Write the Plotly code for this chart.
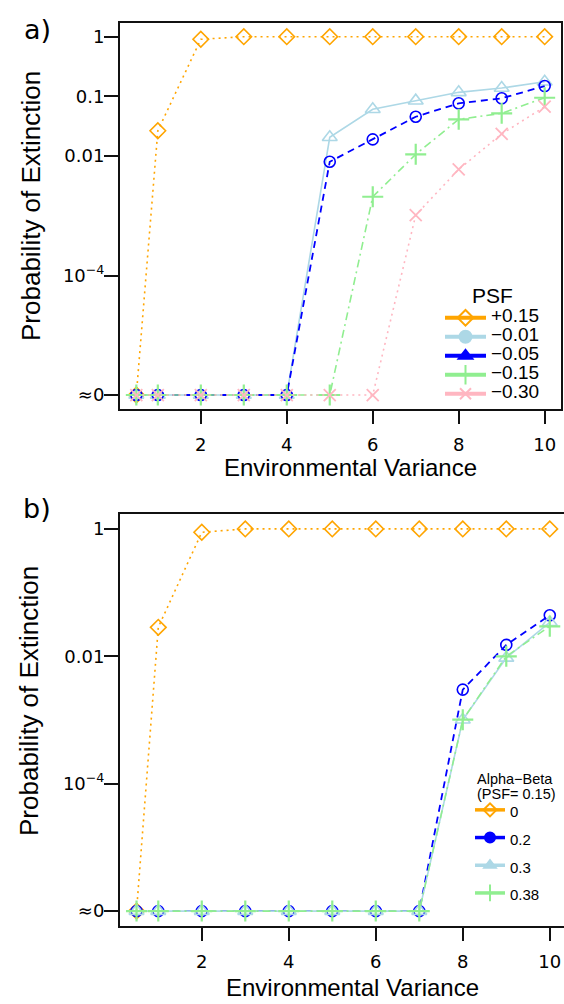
import plotly.graph_objects as go

W, H = 564, 1004
ZERO = 1e-6  # plotted position of "≈0"

env_var = [0.5, 1, 2, 3, 4, 5, 6, 7, 8, 9, 10]

# Panel a) PSF series
psf_labels = ["+0.15", "\u22120.01", "\u22120.05", "\u22120.15", "\u22120.30"]
psf_p015 = [ZERO, 0.0266, 0.904, 1, 1, 1, 1, 1, 1, 1, 1]
psf_m001 = [ZERO, ZERO, ZERO, ZERO, ZERO, 0.0207, 0.0608, 0.0848, 0.117, 0.138, 0.176]
psf_m005 = [ZERO, ZERO, ZERO, ZERO, ZERO, 0.00805, 0.0191, 0.0457, 0.0766, 0.0929, 0.149]
psf_m015 = [ZERO, ZERO, ZERO, ZERO, ZERO, ZERO, 0.00209, 0.0107, 0.0413, 0.0521, 0.095]
psf_m030 = [ZERO, ZERO, ZERO, ZERO, ZERO, ZERO, ZERO, 0.00103, 0.0060, 0.0235, 0.0672]

# Panel b) Alpha-Beta series (PSF = 0.15)
ab_labels = ["0", "0.2", "0.3", "0.38"]
ab_000 = [ZERO, 0.0285, 0.885, 1, 1, 1, 1, 1, 1, 1, 1]
ab_020 = [ZERO, ZERO, ZERO, ZERO, ZERO, ZERO, ZERO, ZERO, 0.0030, 0.0151, 0.0441]
ab_030 = [ZERO, ZERO, ZERO, ZERO, ZERO, ZERO, ZERO, ZERO, 0.00101, 0.00944, 0.0342]
ab_038 = [ZERO, ZERO, ZERO, ZERO, ZERO, ZERO, ZERO, ZERO, 0.00101, 0.0100, 0.0296]

ytick_vals_a = [ZERO, 1e-4, 0.01, 0.1, 1]
ytick_text_a = ["\u22480", "10<sup>\u22124</sup>", "0.01", "0.1", "1"]
ytick_vals_b = [ZERO, 1e-4, 0.01, 1]
ytick_text_b = ["\u22480", "10<sup>\u22124</sup>", "0.01", "1"]
xtick_vals = [2, 4, 6, 8, 10]

ORANGE = "#FFA500"
LBLUE = "#ADD8E6"
BLUE = "#0000FF"
LGREEN = "#90EE90"
PINK = "#FFB6C1"

DOT = "2px,4px"
DASH = "7px,5px"
DASHDOT = "8px,4px,2px,4px"

fig = go.Figure()


def series(y, color, dash, width, symbol, msize, mlw, xa, ya):
    fig.add_trace(go.Scatter(
        x=env_var, y=y, mode="lines+markers", showlegend=False,
        line=dict(color=color, dash=dash, width=width),
        marker=dict(symbol=symbol, size=msize, color=color, line=dict(color=color, width=mlw)),
        xaxis=xa, yaxis=ya, hoverinfo="skip"))


def legend_entry(name, color, symbol, msize, lw, legend, fsize):
    fig.add_trace(go.Scatter(
        x=[None], y=[None], mode="lines+markers",
        name=f"<span style='font-size:{fsize}px'>{name}</span>",
        line=dict(color=color, width=lw),
        marker=dict(symbol=symbol, size=msize, color=color, line=dict(color=color, width=2)),
        xaxis="x", yaxis="y", legend=legend, showlegend=True))


# Panel a
series(psf_p015, ORANGE, DOT, 1.6, "diamond-open", 12, 1.6, "x", "y")
series(psf_m001, LBLUE, "solid", 1.6, "triangle-up-open", 13, 1.6, "x", "y")
series(psf_m005, BLUE, DASH, 1.8, "circle-open", 11, 1.6, "x", "y")
series(psf_m015, LGREEN, DASHDOT, 1.6, "cross-thin-open", 15, 2.2, "x", "y")
series(psf_m030, PINK, DOT, 1.6, "x-thin-open", 12, 1.8, "x", "y")

# Panel b
series(ab_000, ORANGE, DOT, 1.6, "diamond-open", 12, 1.6, "x2", "y2")
series(ab_020, BLUE, DASH, 1.8, "circle-open", 11, 1.6, "x2", "y2")
series(ab_030, LBLUE, "solid", 1.6, "triangle-up-open", 13, 1.6, "x2", "y2")
series(ab_038, LGREEN, DASHDOT, 1.6, "cross-thin-open", 15, 2.2, "x2", "y2")

# Legend a entries (symbols as in the reference legend)
legend_entry(psf_labels[0], ORANGE, "diamond-open", 12, 4, "legend", 19)
legend_entry(psf_labels[1], LBLUE, "circle", 12, 4, "legend", 19)
legend_entry(psf_labels[2], BLUE, "triangle-up", 12, 4, "legend", 19)
legend_entry(psf_labels[3], LGREEN, "cross-thin-open", 14, 4, "legend", 19)
legend_entry(psf_labels[4], PINK, "x-thin-open", 11, 4, "legend", 19)

# Legend b entries
legend_entry(ab_labels[0], ORANGE, "diamond-open", 10, 3.5, "legend2", 15)
legend_entry(ab_labels[1], BLUE, "circle", 10, 3.5, "legend2", 15)
legend_entry(ab_labels[2], LBLUE, "triangle-up", 10, 3.5, "legend2", 15)
legend_entry(ab_labels[3], LGREEN, "cross-thin-open", 12, 3.5, "legend2", 15)

TICKFONT = dict(family="DejaVu Sans", size=18, color="black")
AXCOL = "#111111"


def px_x(p):
    return p / W


def px_y(p):
    return 1 - p / H


common_x = dict(showgrid=False, zeroline=False, showline=True, linecolor=AXCOL, linewidth=2,
                mirror=True, ticks="outside", ticklen=13, tickwidth=2, tickcolor=AXCOL,
                tickvals=xtick_vals, tickfont=TICKFONT, automargin=False, ticklabelstandoff=5)
common_y = dict(type="log", showgrid=False, zeroline=False, showline=True, linecolor=AXCOL, linewidth=2,
                ticks="outside", ticklen=14, tickwidth=2, tickcolor=AXCOL, tickfont=TICKFONT,
                automargin=False, range=[-6.234, 0.234], ticklabelstandoff=-4)

fig.update_layout(
    width=W, height=H, autosize=False,
    margin=dict(l=0, r=0, t=0, b=0, autoexpand=False),
    paper_bgcolor="white", plot_bgcolor="white",
    xaxis=dict(common_x, domain=[px_x(120), px_x(561)], range=[0.12, 10.38], anchor="y"),
    yaxis=dict(common_y, domain=[px_y(409), px_y(22.7)], anchor="x", mirror=True,
               tickvals=ytick_vals_a, ticktext=ytick_text_a),
    xaxis2=dict(common_x, domain=[px_x(120), 1.0], range=[0.12, 10.327], anchor="y2"),
    yaxis2=dict(common_y, domain=[px_y(926), px_y(514)], anchor="x2", mirror=False,
                tickvals=ytick_vals_b, ticktext=ytick_text_b),
    legend=dict(x=px_x(440), y=px_y(276), xanchor="left", yanchor="top",
                bgcolor="rgba(0,0,0,0)", borderwidth=0,
                font=dict(family="Liberation Sans, Arial", size=11, color="black"),
                title=dict(text="PSF", side="top center",
                           font=dict(family="Liberation Sans, Arial", size=21, color="black")),
                tracegroupgap=0, itemwidth=41),
    legend2=dict(x=px_x(470), y=px_y(791), xanchor="left", yanchor="top",
                 bgcolor="rgba(0,0,0,0)", borderwidth=0,
                 font=dict(family="Liberation Sans, Arial", size=19, color="black"),
                 tracegroupgap=0, itemwidth=30),
    showlegend=True,
)

TITLEFONT = dict(family="Liberation Sans, Arial", color="black")
annots = [
    dict(text="a)", x=px_x(37), y=px_y(30), font=dict(family="DejaVu Sans", size=27, color="black")),
    dict(text="b)", x=px_x(37), y=px_y(508), font=dict(family="DejaVu Sans", size=27, color="black")),
    dict(text="Probability of Extinction", x=px_x(31), y=px_y(206), textangle=-90,
         font=dict(TITLEFONT, size=26)),
    dict(text="Probability of Extinction", x=px_x(29), y=px_y(701), textangle=-90,
         font=dict(TITLEFONT, size=26)),
    dict(text="Environmental Variance", x=px_x(350), y=px_y(467), font=dict(TITLEFONT, size=24)),
    dict(text="Environmental Variance", x=px_x(352), y=px_y(987), font=dict(TITLEFONT, size=24)),
    dict(text="Alpha\u2212Beta", x=px_x(475), y=px_y(779), xanchor="left",
         font=dict(TITLEFONT, size=14.5)),
    dict(text="(PSF= 0.15)", x=px_x(475), y=px_y(793.5), xanchor="left",
         font=dict(TITLEFONT, size=14.5)),
]
for a in annots:
    a.setdefault("xanchor", "center")
    fig.add_annotation(xref="paper", yref="paper", yanchor="middle", showarrow=False, **a)

fig.write_html("out.html", config={"displayModeBar": False},
               post_script="document.body.style.margin='0';document.body.style.padding='0';")
